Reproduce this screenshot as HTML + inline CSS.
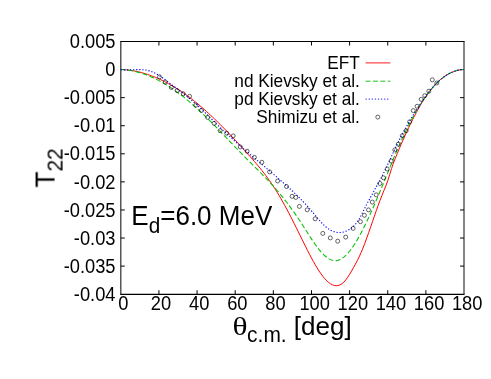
<!DOCTYPE html>
<html><head><meta charset="utf-8"><title>T22</title>
<style>
html,body{margin:0;padding:0;background:#fff;}
body{width:491px;height:379px;overflow:hidden;}
svg{display:block;font-family:"Liberation Sans",sans-serif;}
</style></head><body>
<svg width="491" height="379" viewBox="0 0 491 379">
<rect width="491" height="379" fill="#fff"/>
<g fill="none" stroke="#000" stroke-width="1">
<path stroke-width="1.15" d="M120.3 41.5 H464.5 M120.3 294.3 H464.5"/>
<path stroke-width="1.0" d="M120.85 41.5 V294.3"/>
<path stroke-width="0.95" d="M464 41.5 V294.3"/>
<path d="M158.93 294.2 V290.2 M158.93 41.5 V45.5"/>
<path d="M120.8 69.58 H124.8 M464.0 69.58 H460.0"/>
<path d="M197.07 294.2 V290.2 M197.07 41.5 V45.5"/>
<path d="M120.8 97.66 H124.8 M464.0 97.66 H460.0"/>
<path d="M235.20 294.2 V290.2 M235.20 41.5 V45.5"/>
<path d="M120.8 125.73 H124.8 M464.0 125.73 H460.0"/>
<path d="M273.33 294.2 V290.2 M273.33 41.5 V45.5"/>
<path d="M120.8 153.81 H124.8 M464.0 153.81 H460.0"/>
<path d="M311.47 294.2 V290.2 M311.47 41.5 V45.5"/>
<path d="M120.8 181.89 H124.8 M464.0 181.89 H460.0"/>
<path d="M349.60 294.2 V290.2 M349.60 41.5 V45.5"/>
<path d="M120.8 209.97 H124.8 M464.0 209.97 H460.0"/>
<path d="M387.73 294.2 V290.2 M387.73 41.5 V45.5"/>
<path d="M120.8 238.04 H124.8 M464.0 238.04 H460.0"/>
<path d="M425.87 294.2 V290.2 M425.87 41.5 V45.5"/>
<path d="M120.8 266.12 H124.8 M464.0 266.12 H460.0"/>
</g>
<g font-size="18.67px" fill="#000" opacity="0.999">
<text transform="translate(115.50 48.15) scale(0.98 1.04)" font-size="18.67px" text-anchor="end">0.005</text>
<text transform="translate(115.50 76.23) scale(0.98 1.04)" font-size="18.67px" text-anchor="end">0</text>
<text transform="translate(115.50 104.31) scale(0.98 1.04)" font-size="18.67px" text-anchor="end">-0.005</text>
<text transform="translate(115.50 132.38) scale(0.98 1.04)" font-size="18.67px" text-anchor="end">-0.01</text>
<text transform="translate(115.50 160.46) scale(0.98 1.04)" font-size="18.67px" text-anchor="end">-0.015</text>
<text transform="translate(115.50 188.54) scale(0.98 1.04)" font-size="18.67px" text-anchor="end">-0.02</text>
<text transform="translate(115.50 216.62) scale(0.98 1.04)" font-size="18.67px" text-anchor="end">-0.025</text>
<text transform="translate(115.50 244.69) scale(0.98 1.04)" font-size="18.67px" text-anchor="end">-0.03</text>
<text transform="translate(115.50 272.77) scale(0.98 1.04)" font-size="18.67px" text-anchor="end">-0.035</text>
<text transform="translate(115.50 300.85) scale(0.98 1.04)" font-size="18.67px" text-anchor="end">-0.04</text>
<text transform="translate(123.40 310.10) scale(0.98 1.04)" font-size="18.67px" text-anchor="middle">0</text>
<text transform="translate(161.03 310.10) scale(0.98 1.04)" font-size="18.67px" text-anchor="middle">20</text>
<text transform="translate(199.17 310.10) scale(0.98 1.04)" font-size="18.67px" text-anchor="middle">40</text>
<text transform="translate(237.30 310.10) scale(0.98 1.04)" font-size="18.67px" text-anchor="middle">60</text>
<text transform="translate(275.43 310.10) scale(0.98 1.04)" font-size="18.67px" text-anchor="middle">80</text>
<text transform="translate(314.67 310.10) scale(0.98 1.04)" font-size="18.67px" text-anchor="middle">100</text>
<text transform="translate(352.80 310.10) scale(0.98 1.04)" font-size="18.67px" text-anchor="middle">120</text>
<text transform="translate(390.93 310.10) scale(0.98 1.04)" font-size="18.67px" text-anchor="middle">140</text>
<text transform="translate(429.07 310.10) scale(0.98 1.04)" font-size="18.67px" text-anchor="middle">160</text>
<text transform="translate(467.20 310.10) scale(0.98 1.04)" font-size="18.67px" text-anchor="middle">180</text>
</g>
<g fill="none" stroke-width="1">
<path stroke="#ff0000" d="M120.80 69.50 L122.71 69.58 L124.61 69.71 L126.52 69.88 L128.43 70.09 L130.33 70.34 L132.24 70.63 L134.15 70.96 L136.05 71.33 L137.96 71.74 L139.87 72.19 L141.77 72.69 L143.68 73.22 L145.59 73.79 L147.49 74.40 L149.40 75.05 L151.31 75.74 L153.21 76.46 L155.12 77.23 L157.03 78.03 L158.93 78.87 L160.84 79.75 L162.75 80.66 L164.65 81.62 L166.56 82.61 L168.47 83.63 L170.37 84.70 L172.28 85.80 L174.19 86.93 L176.09 88.10 L178.00 89.31 L179.91 90.55 L181.81 91.83 L183.72 93.15 L185.63 94.49 L187.53 95.88 L189.44 97.29 L191.35 98.75 L193.25 100.23 L195.16 101.75 L197.07 103.30 L198.97 104.89 L200.88 106.51 L202.79 108.16 L204.69 109.84 L206.60 111.55 L208.51 113.29 L210.41 115.05 L212.32 116.85 L214.23 118.67 L216.13 120.51 L218.04 122.38 L219.95 124.27 L221.85 126.19 L223.76 128.12 L225.67 130.08 L227.57 132.06 L229.48 134.05 L231.39 136.06 L233.29 138.09 L235.20 140.14 L237.11 142.20 L239.01 144.27 L240.92 146.36 L242.83 148.46 L244.73 150.57 L246.64 152.70 L248.55 154.83 L250.45 156.97 L252.36 159.14 L254.27 161.33 L256.17 163.55 L258.08 165.81 L259.99 168.12 L261.89 170.49 L263.80 172.92 L265.71 175.41 L267.61 177.98 L269.52 180.64 L271.43 183.39 L273.33 186.23 L275.24 189.18 L277.15 192.24 L279.05 195.41 L280.96 198.67 L282.87 202.03 L284.77 205.48 L286.68 209.00 L288.59 212.59 L290.49 216.25 L292.40 219.96 L294.31 223.73 L296.21 227.53 L298.12 231.37 L300.03 235.24 L301.93 239.12 L303.84 243.00 L305.75 246.85 L307.65 250.65 L309.56 254.38 L311.47 258.00 L313.37 261.51 L315.28 264.87 L317.19 268.07 L319.09 271.07 L321.00 273.86 L322.91 276.41 L324.81 278.71 L326.72 280.72 L328.63 282.42 L330.53 283.79 L332.44 284.81 L334.35 285.45 L336.25 285.69 L338.16 285.50 L340.07 284.85 L341.97 283.72 L343.88 282.08 L345.79 279.91 L347.69 277.29 L349.60 274.31 L351.51 271.08 L353.41 267.72 L355.32 264.30 L357.23 260.76 L359.13 256.94 L361.04 252.70 L362.95 248.10 L364.85 243.19 L366.76 238.03 L368.67 232.69 L370.57 227.22 L372.48 221.69 L374.39 216.16 L376.29 210.69 L378.20 205.34 L380.11 200.18 L382.01 195.26 L383.92 190.60 L385.83 185.92 L387.73 180.79 L389.64 174.81 L391.55 168.53 L393.45 163.06 L395.36 158.17 L397.27 153.51 L399.17 148.95 L401.08 144.48 L402.99 140.10 L404.89 135.82 L406.80 131.64 L408.71 127.58 L410.61 123.62 L412.52 119.78 L414.43 116.06 L416.33 112.47 L418.24 109.00 L420.15 105.67 L422.05 102.47 L423.96 99.42 L425.87 96.51 L427.77 93.75 L429.68 91.15 L431.59 88.70 L433.49 86.42 L435.40 84.31 L437.31 82.36 L439.21 80.56 L441.12 78.93 L443.03 77.44 L444.93 76.10 L446.84 74.90 L448.75 73.83 L450.65 72.88 L452.56 72.07 L454.47 71.37 L456.37 70.78 L458.28 70.30 L460.19 69.92 L462.09 69.64 L464.00 69.45"/>
<path stroke="#00c000" stroke-width="1.05" stroke-dasharray="4.92 2.46" d="M120.80 69.50 L122.71 69.59 L124.61 69.74 L126.52 69.94 L128.43 70.18 L130.33 70.48 L132.24 70.83 L134.15 71.22 L136.05 71.67 L137.96 72.16 L139.87 72.71 L141.77 73.29 L143.68 73.93 L145.59 74.61 L147.49 75.34 L149.40 76.11 L151.31 76.92 L153.21 77.79 L155.12 78.69 L157.03 79.64 L158.93 80.62 L160.84 81.66 L162.75 82.73 L164.65 83.84 L166.56 84.99 L168.47 86.19 L170.37 87.42 L172.28 88.69 L174.19 90.00 L176.09 91.35 L178.00 92.73 L179.91 94.15 L181.81 95.61 L183.72 97.10 L185.63 98.63 L187.53 100.19 L189.44 101.78 L191.35 103.41 L193.25 105.07 L195.16 106.77 L197.07 108.49 L198.97 110.25 L200.88 112.04 L202.79 113.85 L204.69 115.69 L206.60 117.55 L208.51 119.43 L210.41 121.34 L212.32 123.26 L214.23 125.20 L216.13 127.15 L218.04 129.11 L219.95 131.09 L221.85 133.07 L223.76 135.06 L225.67 137.05 L227.57 139.05 L229.48 141.05 L231.39 143.04 L233.29 145.04 L235.20 147.03 L237.11 149.01 L239.01 150.99 L240.92 152.95 L242.83 154.90 L244.73 156.84 L246.64 158.77 L248.55 160.68 L250.45 162.58 L252.36 164.48 L254.27 166.37 L256.17 168.27 L258.08 170.18 L259.99 172.09 L261.89 174.03 L263.80 175.98 L265.71 177.95 L267.61 179.96 L269.52 181.99 L271.43 184.06 L273.33 186.16 L275.24 188.31 L277.15 190.51 L279.05 192.76 L280.96 195.05 L282.87 197.41 L284.77 199.81 L286.68 202.27 L288.59 204.78 L290.49 207.35 L292.40 209.98 L294.31 212.66 L296.21 215.40 L298.12 218.20 L300.03 221.06 L301.93 223.98 L303.84 226.95 L305.75 229.96 L307.65 232.97 L309.56 235.95 L311.47 238.89 L313.37 241.75 L315.28 244.50 L317.19 247.13 L319.09 249.59 L321.00 251.87 L322.91 253.94 L324.81 255.77 L326.72 257.35 L328.63 258.64 L330.53 259.64 L332.44 260.32 L334.35 260.67 L336.25 260.65 L338.16 260.28 L340.07 259.55 L341.97 258.49 L343.88 257.11 L345.79 255.43 L347.69 253.46 L349.60 251.22 L351.51 248.73 L353.41 246.00 L355.32 243.05 L357.23 239.88 L359.13 236.53 L361.04 233.00 L362.95 229.31 L364.85 225.48 L366.76 221.52 L368.67 217.45 L370.57 213.28 L372.48 209.03 L374.39 204.70 L376.29 200.30 L378.20 195.83 L380.11 191.31 L382.01 186.75 L383.92 182.14 L385.83 177.49 L387.73 172.82 L389.64 168.14 L391.55 163.45 L393.45 158.80 L395.36 154.24 L397.27 149.77 L399.17 145.41 L401.08 141.15 L402.99 137.00 L404.89 132.96 L406.80 129.03 L408.71 125.22 L410.61 121.51 L412.52 117.93 L414.43 114.46 L416.33 111.11 L418.24 107.88 L420.15 104.77 L422.05 101.79 L423.96 98.94 L425.87 96.21 L427.77 93.60 L429.68 91.13 L431.59 88.80 L433.49 86.59 L435.40 84.52 L437.31 82.59 L439.21 80.79 L441.12 79.13 L443.03 77.60 L444.93 76.20 L446.84 74.94 L448.75 73.80 L450.65 72.80 L452.56 71.94 L454.47 71.20 L456.37 70.59 L458.28 70.11 L460.19 69.76 L462.09 69.54 L464.00 69.45"/>
<path stroke="#0000ff" stroke-width="1.1" stroke-dasharray="1.23 1.85" d="M120.80 69.50 L122.71 69.72 L124.61 69.85 L126.52 69.90 L128.43 69.89 L130.33 69.84 L132.24 69.77 L134.15 69.69 L136.05 69.62 L137.96 69.58 L139.87 69.58 L141.77 69.65 L143.68 69.79 L145.59 70.04 L147.49 70.39 L149.40 70.88 L151.31 71.51 L153.21 72.29 L155.12 73.22 L157.03 74.26 L158.93 75.41 L160.84 76.66 L162.75 77.98 L164.65 79.36 L166.56 80.79 L168.47 82.25 L170.37 83.72 L172.28 85.20 L174.19 86.66 L176.09 88.11 L178.00 89.56 L179.91 91.02 L181.81 92.48 L183.72 93.94 L185.63 95.43 L187.53 96.94 L189.44 98.47 L191.35 100.04 L193.25 101.64 L195.16 103.29 L197.07 104.98 L198.97 106.72 L200.88 108.51 L202.79 110.33 L204.69 112.18 L206.60 114.05 L208.51 115.94 L210.41 117.84 L212.32 119.74 L214.23 121.64 L216.13 123.53 L218.04 125.39 L219.95 127.24 L221.85 129.07 L223.76 130.88 L225.67 132.67 L227.57 134.44 L229.48 136.20 L231.39 137.93 L233.29 139.66 L235.20 141.37 L237.11 143.07 L239.01 144.76 L240.92 146.43 L242.83 148.10 L244.73 149.75 L246.64 151.40 L248.55 153.04 L250.45 154.68 L252.36 156.31 L254.27 157.93 L256.17 159.55 L258.08 161.17 L259.99 162.79 L261.89 164.41 L263.80 166.02 L265.71 167.64 L267.61 169.26 L269.52 170.88 L271.43 172.51 L273.33 174.14 L275.24 175.77 L277.15 177.42 L279.05 179.07 L280.96 180.73 L282.87 182.40 L284.77 184.08 L286.68 185.77 L288.59 187.49 L290.49 189.23 L292.40 190.99 L294.31 192.78 L296.21 194.61 L298.12 196.47 L300.03 198.37 L301.93 200.31 L303.84 202.30 L305.75 204.34 L307.65 206.44 L309.56 208.59 L311.47 210.80 L313.37 213.07 L315.28 215.38 L317.19 217.68 L319.09 219.93 L321.00 222.09 L322.91 224.12 L324.81 225.97 L326.72 227.61 L328.63 229.00 L330.53 230.16 L332.44 231.08 L334.35 231.78 L336.25 232.25 L338.16 232.49 L340.07 232.51 L341.97 232.32 L343.88 231.90 L345.79 231.28 L347.69 230.45 L349.60 229.39 L351.51 228.06 L353.41 226.40 L355.32 224.38 L357.23 221.92 L359.13 218.99 L361.04 215.56 L362.95 211.82 L364.85 208.01 L366.76 204.32 L368.67 200.73 L370.57 197.22 L372.48 193.75 L374.39 190.31 L376.29 186.86 L378.20 183.37 L380.11 179.83 L382.01 176.19 L383.92 172.45 L385.83 168.55 L387.73 164.53 L389.64 160.43 L391.55 156.28 L393.45 152.14 L395.36 148.05 L397.27 144.06 L399.17 140.20 L401.08 136.46 L402.99 132.83 L404.89 129.32 L406.80 125.90 L408.71 122.58 L410.61 119.34 L412.52 116.18 L414.43 113.09 L416.33 110.05 L418.24 107.09 L420.15 104.19 L422.05 101.37 L423.96 98.64 L425.87 96.00 L427.77 93.47 L429.68 91.04 L431.59 88.73 L433.49 86.55 L435.40 84.49 L437.31 82.57 L439.21 80.79 L441.12 79.14 L443.03 77.62 L444.93 76.23 L446.84 74.97 L448.75 73.84 L450.65 72.84 L452.56 71.98 L454.47 71.24 L456.37 70.63 L458.28 70.14 L460.19 69.79 L462.09 69.56 L464.00 69.45"/>
</g>
<g fill="none" stroke="#000" stroke-width="0.6">
<circle cx="159.5" cy="76.8" r="2.0"/>
<circle cx="165.2" cy="82" r="2.0"/>
<circle cx="171.3" cy="87.4" r="2.0"/>
<circle cx="177.1" cy="90.6" r="2.0"/>
<circle cx="183.2" cy="93.7" r="2.0"/>
<circle cx="189.6" cy="96.3" r="2.0"/>
<circle cx="195.8" cy="105.2" r="2.0"/>
<circle cx="201.4" cy="110.4" r="2.0"/>
<circle cx="207.6" cy="117.4" r="2.0"/>
<circle cx="214.1" cy="123.4" r="2.0"/>
<circle cx="220.1" cy="130.7" r="2.0"/>
<circle cx="226.7" cy="133.2" r="2.0"/>
<circle cx="233.2" cy="135.9" r="2.0"/>
<circle cx="240.3" cy="146.9" r="2.0"/>
<circle cx="247.1" cy="151.2" r="2.0"/>
<circle cx="254.4" cy="157.4" r="2.0"/>
<circle cx="261.8" cy="162.3" r="2.0"/>
<circle cx="269.6" cy="171.9" r="2.0"/>
<circle cx="277.6" cy="181" r="2.0"/>
<circle cx="286.5" cy="186.5" r="2.0"/>
<circle cx="292.1" cy="196.3" r="2.0"/>
<circle cx="295.8" cy="197.4" r="2.0"/>
<circle cx="299.4" cy="206.4" r="2.0"/>
<circle cx="307.2" cy="209.8" r="2.0"/>
<circle cx="315.1" cy="218.8" r="2.0"/>
<circle cx="322.8" cy="233.4" r="2.0"/>
<circle cx="330.3" cy="237.9" r="2.0"/>
<circle cx="337.7" cy="241.2" r="2.0"/>
<circle cx="345.7" cy="237.1" r="2.0"/>
<circle cx="353.1" cy="228.4" r="2.0"/>
<circle cx="360.4" cy="221.7" r="2.0"/>
<circle cx="364.4" cy="215.3" r="2.0"/>
<circle cx="368.5" cy="209.9" r="2.0"/>
<circle cx="372.3" cy="202.1" r="2.0"/>
<circle cx="376.2" cy="194.8" r="2.0"/>
<circle cx="379.9" cy="183.5" r="2.0"/>
<circle cx="383.5" cy="177.8" r="2.0"/>
<circle cx="387.2" cy="169" r="2.0"/>
<circle cx="391.2" cy="161" r="2.0"/>
<circle cx="394.8" cy="149.9" r="2.0"/>
<circle cx="398.2" cy="144.2" r="2.0"/>
<circle cx="402.3" cy="135.7" r="2.0"/>
<circle cx="406.2" cy="130.7" r="2.0"/>
<circle cx="409.6" cy="121.9" r="2.0"/>
<circle cx="413.3" cy="110.6" r="2.0"/>
<circle cx="417.1" cy="106.3" r="2.0"/>
<circle cx="421.2" cy="99.3" r="2.0"/>
<circle cx="424.8" cy="95.7" r="2.0"/>
<circle cx="428.8" cy="91.2" r="2.0"/>
<circle cx="432.3" cy="79.8" r="2.0"/>
<circle cx="436.8" cy="83" r="2.0"/>
<circle cx="377.8" cy="117.1" r="2.0"/>
</g>
<g fill="none" stroke-width="0.9">
<path stroke="#ff0000" d="M365.6 62.9 H390.3"/>
<path stroke="#00c000" stroke-dasharray="4.92 2.46" d="M365.6 81.2 H390.3"/>
<path stroke="#0000ff" stroke-dasharray="1.23 1.85" d="M365.6 99.1 H390.3"/>
</g>
<g font-size="18.67px" fill="#000" text-anchor="end" opacity="0.999">
<text transform="translate(359.90 68.90) scale(0.925 1.02)" font-size="18.67px" text-anchor="end">EFT</text>
<text transform="translate(359.90 86.85) scale(0.925 1.02)" font-size="18.67px" text-anchor="end">nd Kievsky et al.</text>
<text transform="translate(359.90 104.80) scale(0.925 1.02)" font-size="18.67px" text-anchor="end">pd Kievsky et al.</text>
<text transform="translate(359.90 122.75) scale(0.925 1.02)" font-size="18.67px" text-anchor="end">Shimizu et al.</text>
</g>
<g fill="#000" opacity="0.999">
<text transform="translate(131.37 224.8) scale(0.975 1.025)" font-size="26.67px">E<tspan font-size="21.33px" dy="8.1">d</tspan><tspan dy="-8.1">=6.0 MeV</tspan></text>
<text transform="translate(54.4 187.5) rotate(-90) scale(0.98 1.035)" font-size="26.67px">T<tspan font-size="21.33px" dy="7.45">22</tspan></text>
<text transform="translate(232.5 334.6) scale(1.18 0.98)" font-size="26.67px" font-family="Liberation Serif, serif">θ</text>
<text transform="translate(247.1 341.8) scale(0.983 1.0)" font-size="21.33px">c.m.</text>
<text transform="translate(293.84 334.6) scale(0.977 0.99)" font-size="26.67px">[deg]</text>
</g>
</svg>
</body></html>
